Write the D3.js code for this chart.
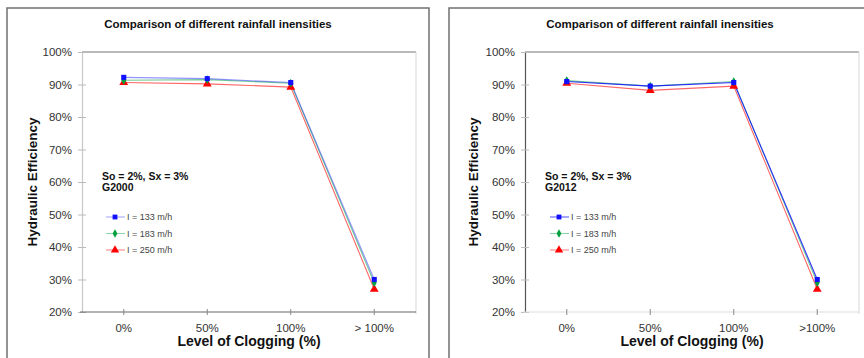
<!DOCTYPE html>
<html>
<head>
<meta charset="utf-8">
<script src="https://cdn.jsdelivr.net/npm/d3@7"></script>
<style>
    body { margin: 0; background: #fff; }
    svg { display: block; }
    text { font-family: "Liberation Sans", Arial, sans-serif; }
</style>
</head>
<body>
<script>
// data
const categories = ["0%", "50%", "100%", "> 100%"];
const categoriesRight = ["0%", "50%", "100%", ">100%"];
const yTicks = [0.2, 0.3, 0.4, 0.5, 0.6, 0.7, 0.8, 0.9, 1.0];
const seriesNames = ["I = 133 m/h", "I = 183 m/h", "I = 250 m/h"];

const g2000_133 = [0.922, 0.918, 0.906, 0.300];
const g2000_183 = [0.913, 0.915, 0.904, 0.290];
const g2000_250 = [0.906, 0.902, 0.892, 0.270];

const g2012_133 = [0.909, 0.895, 0.906, 0.300];
const g2012_183 = [0.912, 0.895, 0.909, 0.290];
const g2012_250 = [0.904, 0.882, 0.895, 0.270];

const W = 864, H = 358;
const svg = d3.select("body").append("svg").attr("width", W).attr("height", H);

const colors = ["#1010ff", "#00a040", "#ff0000"];
const markers = [d3.symbolSquare, d3.symbolDiamond, d3.symbolTriangle];
const markerSizes = [26, 22, 34];

const drawPanel = function (p) {
    const g = svg.append("g");

    // outer frame
    g.append("rect")
        .attr("x", p.frameX).attr("y", 8)
        .attr("width", p.frameW).attr("height", H)
        .attr("fill", "none").attr("stroke", "#707070").attr("stroke-width", 1.5);

    g.append("text")
        .attr("x", p.titleX).attr("y", 28)
        .attr("text-anchor", "middle")
        .attr("font-size", 11.5).attr("font-weight", "bold").attr("fill", "#111")
        .text("Comparison of different rainfall inensities");

    const x = d3.scaleBand().domain(p.cats).range([p.left, p.left + 334]);
    const y = d3.scaleLinear().domain([0.2, 1.0]).range([312, 52]);

    // plot borders
    g.append("line").attr("x1", p.left).attr("x2", p.left + 334).attr("y1", 52).attr("y2", 52)
        .attr("stroke", "#777").attr("stroke-width", 1.2);
    g.append("line").attr("x1", p.left + 334).attr("x2", p.left + 334).attr("y1", 52).attr("y2", 314)
        .attr("stroke", "#ddd").attr("stroke-width", 1.2);

    const yAxis = g.append("g")
        .attr("transform", `translate(${p.left},0)`)
        .call(d3.axisLeft(y).tickValues(yTicks).tickFormat(d3.format(".0%")).tickSize(4).tickPadding(6));
    yAxis.select(".domain").attr("stroke", p.leftAxisColor).attr("stroke-width", 1.2);
    yAxis.selectAll(".tick line").attr("stroke", "#bbb").attr("x2", -4).attr("x1", 4);
    yAxis.selectAll(".tick text").attr("font-size", 11.5).attr("fill", "#333")
        .attr("font-family", "Liberation Sans, Arial, sans-serif");

    const xAxis = g.append("g")
        .attr("transform", "translate(0,312)")
        .call(d3.axisBottom(x).tickSizeOuter(0).tickSize(3).tickPadding(9));
    xAxis.select(".domain").attr("stroke", p.bottomAxisColor).attr("stroke-width", 1.2)
        .attr("d", `M${p.left - 2},0H${p.left + 334}`);
    xAxis.selectAll(".tick line").attr("stroke", "#888").attr("y1", -3);
    xAxis.selectAll(".tick text").attr("font-size", 11.5).attr("fill", "#333")
        .attr("font-family", "Liberation Sans, Arial, sans-serif");

    g.append("text")
        .attr("transform", `translate(${p.yTitleX},182) rotate(-90)`)
        .attr("text-anchor", "middle")
        .attr("font-size", 13.5).attr("font-weight", "bold").attr("fill", "#111")
        .text("Hydraulic Efficiency");

    g.append("text")
        .attr("x", p.left + 167).attr("y", 346)
        .attr("text-anchor", "middle")
        .attr("font-size", 14).attr("font-weight", "bold").attr("fill", "#111")
        .text("Level of Clogging (%)");

    g.append("text")
        .attr("x", p.left + 20).attr("y", 179.5)
        .attr("font-size", 10.5).attr("font-weight", "bold").attr("fill", "#111")
        .text("So = 2%, Sx = 3%");
    g.append("text")
        .attr("x", p.left + 20).attr("y", 190.5)
        .attr("font-size", 10.5).attr("font-weight", "bold").attr("fill", "#111")
        .text(p.label);

    const cx = d => x(d) + x.bandwidth() / 2;
    const line = d3.line().x((d, i) => cx(p.cats[i])).y(d => y(d));

    // draw back to front: red, green, blue on top
    [2, 1, 0].forEach(k => {
        g.append("path")
            .datum(p.series[k])
            .attr("d", line)
            .attr("fill", "none")
            .attr("stroke", colors[k])
            .attr("stroke-opacity", p.lineOpacity[k])
            .attr("stroke-width", 1.1);
    });
    [2, 1, 0].forEach(k => {
        g.selectAll(null)
            .data(p.series[k])
            .join("path")
            .attr("transform", (d, i) => `translate(${cx(p.cats[i])},${y(d)})`)
            .attr("d", d3.symbol(markers[k], markerSizes[k]))
            .attr("fill", colors[k]);
    });

    // legend
    seriesNames.forEach((name, k) => {
        const ly = 217 + k * 16.5;
        g.append("line")
            .attr("x1", p.legX - 9).attr("x2", p.legX + 10).attr("y1", ly).attr("y2", ly)
            .attr("stroke", colors[k]).attr("stroke-opacity", p.lineOpacity[k] * 0.8).attr("stroke-width", 1.1);
        g.append("path")
            .attr("transform", `translate(${p.legX},${ly})`)
            .attr("d", d3.symbol(markers[k], markerSizes[k] * 0.9))
            .attr("fill", colors[k]);
        g.append("text")
            .attr("x", p.legX + 12).attr("y", ly + 3.3)
            .attr("font-size", 9).attr("fill", "#444")
            .text(name);
    });
};

drawPanel({
    frameX: 7, frameW: 422, titleX: 218, left: 82, yTitleX: 37,
    cats: categories, label: "G2000", legX: 115,
    leftAxisColor: "#c8c8c8", bottomAxisColor: "#666",
    lineOpacity: [0.45, 0.55, 0.6],
    series: [g2000_133, g2000_183, g2000_250]
});

drawPanel({
    frameX: 449, frameW: 430, titleX: 660, left: 525, yTitleX: 478,
    cats: categoriesRight, label: "G2012", legX: 559,
    leftAxisColor: "#555", bottomAxisColor: "#ddd",
    lineOpacity: [0.85, 0.55, 0.6],
    series: [g2012_133, g2012_183, g2012_250]
});
</script>
</body>
</html>
